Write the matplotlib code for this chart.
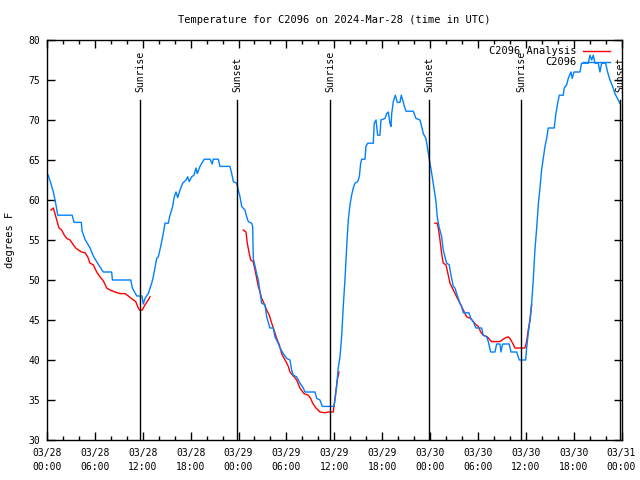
import datetime

import matplotlib
matplotlib.use("Agg")
import matplotlib.pyplot as plt
import matplotlib.dates as mdates
import numpy as np

# hours after 2024-03-28 00:00 UTC, temperature in degrees F
obs_hours = [0.15, 0.5, 0.8, 1.1, 1.35, 3.15, 3.4, 4.3, 4.4, 4.75, 5.4, 5.8, 6.4,
             7.05, 8.1, 8.2, 10.5, 10.7, 11.25, 11.9, 12.07, 12.28, 12.69, 13.12,
             13.32, 13.75, 13.95, 14.25, 14.57, 14.79, 15.2, 15.41, 15.7, 15.95,
             16.17, 16.38, 16.67, 17.0, 17.42, 17.63, 17.83, 18.13, 18.42, 18.67,
             18.83, 19.17, 19.71, 20.43, 20.71, 20.84, 21.47, 21.68, 22.93, 23.15,
             23.35, 23.77, 23.97, 24.19, 24.4, 24.81, 25.03, 25.23, 25.65, 25.78,
             25.85, 26.07, 26.28, 26.48, 26.69, 26.9, 27.32, 27.53, 27.94, 28.36,
             28.57, 28.98, 29.2, 29.61, 30.04, 30.45, 30.66, 30.86, 31.29, 31.7,
             32.12, 32.33, 33.58, 33.8, 34.21, 34.5, 35.96, 36.09, 36.3, 36.5,
             36.72, 36.93, 37.13, 37.34, 37.56, 37.76, 37.97, 38.18, 38.38, 38.6,
             38.93, 39.14, 39.31, 39.44, 39.85, 39.97, 40.19, 40.89, 41.01, 41.23,
             41.44, 41.73, 41.85, 42.36, 42.57, 42.77, 42.98, 43.11, 43.2, 43.4,
             43.65, 43.9, 44.24, 44.4, 44.74, 44.99, 45.9, 46.24, 46.74, 46.95,
             47.16, 47.49, 47.66, 47.87, 48.0, 48.28, 48.53, 48.75, 48.91, 49.12,
             49.46, 49.66, 49.87, 50.09, 50.41, 50.59, 50.92, 51.13, 51.34, 51.54,
             51.75, 51.97, 52.17, 52.88, 53.1, 53.42, 53.76, 54.47, 54.67, 55.1,
             55.3, 55.6, 56.14, 56.35, 56.77, 56.89, 57.1, 57.93, 58.15, 58.86,
             59.19, 59.99, 60.11, 60.31, 60.53, 60.74, 60.94, 61.15, 61.37, 61.57,
             61.78, 61.99, 62.19, 62.41, 62.62, 62.82, 63.57, 63.75, 64.0, 64.2,
             64.7, 64.82, 65.13, 65.33, 65.66, 65.83, 66.04, 66.79, 67.0, 67.83,
             68.05, 68.26, 68.46, 68.67, 69.09, 69.3, 69.51, 70.01, 70.26, 70.55,
             70.96, 71.18, 71.59, 71.8]
obs_temp = [63.1, 62.0, 61.0, 59.5, 58.1, 58.1, 57.2, 57.2, 56.1, 55.1, 54.0, 53.0, 52.0,
            51.0, 51.0, 50.0, 50.0, 49.0, 48.0, 48.0, 47.0, 47.7, 48.3, 49.6,
            50.4, 52.7, 52.9, 54.2, 55.8, 57.1, 57.1, 58.1, 59.0, 60.4,
            61.0, 60.3, 61.25, 62.1, 62.5, 62.9, 62.3, 62.9, 63.1, 64.0,
            63.3, 64.2, 65.1, 65.1, 64.5, 65.1, 65.1, 64.2, 64.2, 63.3,
            62.3, 62.1, 61.25, 60.4, 59.2, 58.75, 57.9, 57.3, 57.1, 56.7,
            52.7, 51.7, 50.8, 50.0, 48.5, 47.1, 46.9, 45.4, 44.0, 44.0,
            42.9, 42.1, 41.5, 40.8, 40.2, 40.0, 38.75, 38.1, 37.9, 37.1,
            36.5, 36.0, 36.0, 35.2, 35.0, 34.2, 34.2, 35.0, 36.7, 39.0,
            40.4, 43.0, 46.7, 50.0, 54.2, 57.5, 59.4, 60.6, 61.5, 62.1,
            62.3, 62.9, 64.6, 65.1, 65.1, 66.7, 67.1, 67.1, 69.6, 70.0,
            68.1, 68.1, 70.0, 70.2, 70.8, 71.0, 69.6, 69.2, 70.8, 72.3,
            73.1, 72.2, 72.2, 73.1, 71.9, 71.1, 71.1, 70.2, 70.0, 69.2,
            68.3, 67.7, 66.7, 65.4, 64.6, 62.9, 61.25, 59.8, 57.9, 56.7,
            55.4, 53.75, 52.9, 52.1, 51.9, 50.8, 49.2, 49.0, 48.3, 47.7,
            47.1, 46.7, 45.9, 45.9, 45.2, 44.8, 44.0, 44.0, 43.1, 42.9,
            42.3, 41.0, 41.0, 42.0, 42.0, 41.0, 42.0, 42.0, 41.0, 41.0,
            40.0, 40.0, 41.5, 43.3, 45.0, 47.1, 50.0, 53.75, 56.5, 59.4,
            61.5, 63.75, 65.2, 66.7, 67.7, 69.0, 69.0, 70.6, 72.1, 73.1,
            73.1, 74.0, 74.4, 75.2, 76.0, 75.2, 76.0, 76.0, 77.1, 77.1,
            78.1, 77.5, 78.1, 77.1, 77.1, 76.0, 77.1, 77.1, 76.0, 75.0,
            74.0, 73.3, 72.5, 72.1]

# analysis series, NaN marks a gap between runs
ana_hours = [0.5, 0.79, 1.0, 1.22, 1.5, 1.84, 2.17, 2.47, 2.88, 3.3, 3.6, 3.92, 4.35,
             4.76, 5.1, 5.39, 5.8, 6.23, 6.64, 7.06, 7.48, 7.89, 8.52, 9.15, 9.77,
             10.19, 10.69, 11.12, 11.44, 11.65, 11.94, 12.28, 12.69, 12.91, 13.0,
             24.6, 24.94, 25.1, 25.35, 25.53, 25.85, 26.07, 26.28, 26.48, 26.69,
             26.9, 27.19, 27.53, 27.86, 28.16, 28.45, 28.78, 29.11, 29.41, 29.61,
             29.95, 30.24, 30.45, 30.79, 31.29, 31.7, 32.21, 32.74, 33.04, 33.3,
             33.71, 34.21, 34.84, 35.25, 35.88, 36.22, 36.38, 36.59, 36.7,
             48.62, 48.91, 49.04, 49.25, 49.46, 49.66, 50.0, 50.29, 50.5, 50.92,
             51.34, 51.75, 52.17, 52.59, 53.1, 53.42, 53.76, 54.05, 54.35, 54.67,
             55.18, 55.51, 55.73, 56.77, 57.18, 57.52, 57.81, 58.02, 58.36, 58.65,
             59.9, 60.11, 60.31, 60.53, 60.74]
ana_temp = [58.75, 59.0, 58.3, 57.5, 56.5, 56.25, 55.6, 55.2, 55.0, 54.4, 54.0, 53.75, 53.5,
            53.4, 52.9, 52.1, 51.9, 51.0, 50.4, 49.9, 49.0, 48.75, 48.5, 48.3, 48.3,
            48.0, 47.6, 47.3, 46.5, 46.2, 46.25, 46.9, 47.5, 47.9, np.nan,
            56.25, 56.0, 54.6, 53.3, 52.5, 52.3, 51.25, 50.2, 49.2, 48.5,
            47.7, 47.1, 46.25, 45.6, 44.6, 43.75, 42.7, 41.9, 40.8, 40.4,
            39.8, 39.2, 38.5, 38.1, 37.5, 36.5, 35.8, 35.6, 35.2, 34.6,
            34.0, 33.5, 33.4, 33.5, 33.5, 36.25, 37.5, 38.5, np.nan,
            57.1, 57.1, 56.5, 55.0, 53.3, 52.1, 51.9, 50.6, 49.6, 48.75,
            47.9, 47.1, 46.25, 45.4, 45.2, 44.8, 44.4, 44.2, 43.5, 43.1,
            42.9, 42.5, 42.3, 42.3, 42.6, 42.8, 42.9, 42.7, 42.1, 41.5,
            41.5, 42.3, 43.75, 45.0, 46.9]

sun_hours = [11.65, 23.81, 35.46, 47.87, 59.4, 71.8]
sun_labels = ["Sunrise", "Sunset", "Sunrise", "Sunset", "Sunrise", "Sunset"]

start = datetime.datetime(2024, 3, 28)


def to_time(hours):
    return [start + datetime.timedelta(hours=h) for h in hours]


plt.rcParams['font.family'] = ['DejaVu Sans Mono']
plt.rcParams['font.size'] = 7

fig = plt.figure(figsize=(6.4, 4.8), dpi=100)
ax = fig.add_axes([47 / 640, 40 / 480, 574.5 / 640, 400 / 480])

ax.plot(to_time(ana_hours), ana_temp, color='#ff0000', lw=1.0,
        label='C2096 Analysis')
ax.plot(to_time(obs_hours), obs_temp, color='#0080ff', lw=1.0,
        label='C2096')

for h, name in zip(sun_hours, sun_labels):
    t = start + datetime.timedelta(hours=h)
    ax.plot([t, t], [30, 72.5], color='black', lw=1.0)
    ax.text(t, 73.5, name, rotation=90, ha='center', va='bottom')

ax.set_xlim(start, start + datetime.timedelta(hours=72))
ax.set_ylim(30, 80)
ax.set_yticks(range(30, 81, 5))
ax.xaxis.set_major_locator(mdates.HourLocator(byhour=range(0, 24, 6)))
ax.xaxis.set_minor_locator(mdates.HourLocator(interval=2))
ax.xaxis.set_major_formatter(mdates.DateFormatter('%m/%d\n%H:%M'))
ax.tick_params(which='both', direction='in', top=True, right=True)
ax.tick_params(which='major', length=6, width=1)
ax.tick_params(which='minor', length=3, width=1)
ax.tick_params(axis='x', pad=6)
ax.tick_params(axis='y', pad=5)
for lbl in ax.get_xticklabels():
    lbl.set_linespacing(1.4)
for s in ax.spines.values():
    s.set_linewidth(1.0)

ax.legend(loc='upper right', bbox_to_anchor=(0.987, 0.995), frameon=False,
          markerfirst=False, handlelength=2.6, borderaxespad=0.0,
          labelspacing=0.1, handletextpad=0.6, fontsize=7.5)

fig.text(334 / 640, 1 - 20 / 480, 'Temperature for C2096 on 2024-Mar-28 (time in UTC)',
         ha='center', va='center', fontsize=7.5)
fig.text(10 / 640, 1 - 240 / 480, 'degrees F', rotation=90,
         ha='center', va='center', fontsize=7.5)

fig.savefig('out.png', dpi=100)
